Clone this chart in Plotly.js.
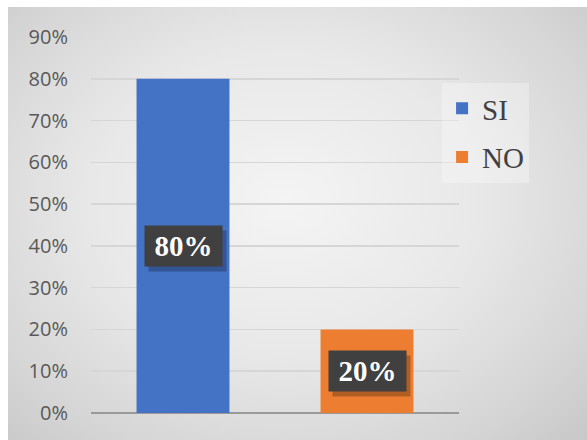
<!DOCTYPE html>
<html>
<head>
<meta charset="utf-8">
<script src="https://cdn.plot.ly/plotly-3.0.1.min.js"></script>
<style>
  html, body { margin: 0; padding: 0; background: #ffffff; width: 587px; height: 440px; overflow: hidden; }
  #frame {
    position: absolute; left: 8px; top: 7px; width: 579px; height: 433px;
    background: radial-gradient(ellipse 75% 80% at 48% 45%, #f4f4f4 0%, #e8e8e8 45%, #d4d4d4 80%, #c6c6c6 100%);
  }
  #chart { width: 579px; height: 433px; }
</style>
</head>
<body>
<div id="frame"><div id="chart"></div></div>
<script>
const categories = ['SI', 'NO'];
const values = [0.80, 0.20];
const colors = ['#4472C4', '#ED7D31'];
const yTicks = [0, 0.1, 0.2, 0.3, 0.4, 0.5, 0.6, 0.7, 0.8, 0.9];

const traces = categories.map((c, i) => ({
  type: 'bar',
  name: c,
  x: [c],
  y: [values[i]],
  marker: { color: colors[i] },
  legendgroup: 'g' + i,
  hoverinfo: 'skip',
  width: 0.505
}));

const annotations = [];
categories.forEach((c, i) => {
  const txt = Math.round(values[i] * 100) + '%';
  // drop shadow box (no text)
  annotations.push({
    x: c, y: values[i] / 2, xref: 'x', yref: 'y',
    text: ' ', showarrow: false,
    width: 69, height: 32,
    xshift: 4, yshift: -5,
    bgcolor: 'rgba(0,0,0,0.25)',
    font: { size: 10, color: 'rgba(0,0,0,0)' },
    borderpad: 4
  });
  annotations.push({
    x: c, y: values[i] / 2, xref: 'x', yref: 'y',
    text: '<b>' + txt + '</b>', showarrow: false,
    width: 69, height: 32,
    bgcolor: '#404040',
    font: { family: 'Liberation Serif, Times New Roman, serif', size: 29, color: '#ffffff' },
    borderpad: 4
  });
});

const layout = {
  width: 579, height: 433,
  margin: { l: 83, r: 128, t: 30, b: 27 },
  paper_bgcolor: 'rgba(0,0,0,0)',
  plot_bgcolor: 'rgba(0,0,0,0)',
  showlegend: true,
  bargap: 0.495,
  xaxis: {
    type: 'category', categoryorder: 'array', categoryarray: categories,
    showticklabels: false, showgrid: false, zeroline: false, showline: false, ticks: ''
  },
  yaxis: {
    range: [0, 0.9], tickvals: yTicks, tickformat: '.0%',
    showgrid: true, gridcolor: '#d6d6d6', gridwidth: 1.5,
    zeroline: true, zerolinecolor: '#9a9a9a', zerolinewidth: 1.5,
    showline: false, ticks: '', ticklabelstandoff: 22,
    tickfont: { family: 'Open Sans, Liberation Sans, sans-serif', size: 20, color: '#595959' }
  },
  legend: {
    x: 0.954, y: 0.878, xanchor: 'left', yanchor: 'top',
    bgcolor: 'rgba(255,255,255,0.3)',
    traceorder: 'grouped', tracegroupgap: 8,
    font: { family: 'Liberation Serif, Times New Roman, serif', size: 29, color: '#404040' }
  },
  annotations: annotations
};

Plotly.newPlot('chart', traces, layout, { displayModeBar: false, staticPlot: true });
</script>
</body>
</html>
